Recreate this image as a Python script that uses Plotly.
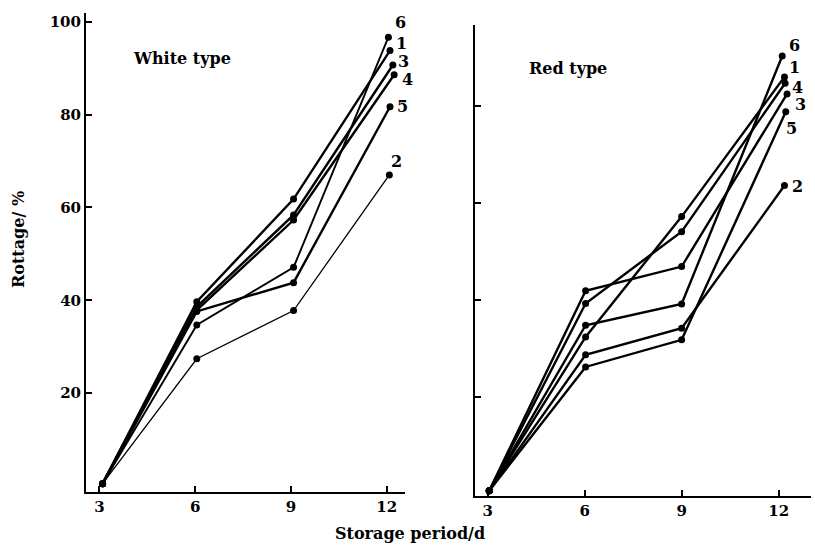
import plotly.graph_objects as go

# ---------------- data ----------------
series_names = ["1", "2", "3", "4", "5", "6"]
day_ticks = [3, 6, 9, 12]
y_ticks_white = [20, 40, 60, 80, 100]
y_ticks_red = [20, 40, 60, 80]

# storage day of each point (white type); the 12-day points per series
white_days = [3.1, 6.05, 9.08]
white_end_day = [12.1, 12.08, 12.19, 12.23, 12.1, 12.05]
white_1 = [0.5, 39.7, 61.8, 93.8]
white_2 = [0.5, 27.4, 37.8, 67.0]
white_3 = [0.5, 38.6, 58.4, 90.7]
white_4 = [0.5, 37.9, 57.3, 88.6]
white_5 = [0.5, 37.6, 43.8, 81.7]
white_6 = [0.5, 34.7, 47.1, 96.7]

red_days = [3.05, 6.03, 9.0]
red_end_day = [12.18, 12.18, 12.26, 12.2, 12.22, 12.11]
red_1 = [0.7, 32.4, 57.2, 86.0]
red_2 = [0.7, 28.7, 34.2, 63.6]
red_3 = [0.7, 41.9, 46.9, 82.5]
red_4 = [0.7, 39.3, 54.1, 84.7]
red_5 = [0.7, 26.2, 31.8, 78.8]
red_6 = [0.7, 34.8, 39.2, 90.3]

white_series = [white_1, white_2, white_3, white_4, white_5, white_6]
red_series = [red_1, red_2, red_3, red_4, red_5, red_6]

# ---------------- style ----------------
FONT = "DejaVu Serif"
W, H = 815, 546
white_widths = [2.4, 1.3, 2.4, 2.4, 2.4, 1.9]
red_widths = [2.4, 2.4, 2.4, 2.4, 2.4, 2.4]
# label offsets in px (dx, dy-up) relative to each 12-day point
white_label_off = {"1": (12, 7), "2": (7, 13), "3": (11, 3), "4": (13, -5), "5": (13, 0), "6": (12, 15)}
red_label_off = {"1": (10, 9), "2": (13, -1), "3": (13, -11), "4": (12, -4), "5": (6, -17), "6": (12, 11)}

fig = go.Figure()
annotations = []

def add_panel(series, days, end_days, widths, xa, ya, offs):
    for name, vals, end, lw in zip(series_names, series, end_days, widths):
        xs = days + [end]
        fig.add_trace(go.Scatter(
            x=xs, y=vals, mode="lines+markers", xaxis=xa, yaxis=ya,
            line=dict(color="black", width=lw),
            marker=dict(color="black", size=7),
            showlegend=False, hoverinfo="skip"))
        dx, dy = offs[name]
        annotations.append(dict(
            x=end, y=vals[-1], xref=xa, yref=ya, text=name, showarrow=False,
            xshift=dx, yshift=dy, xanchor="center", yanchor="middle",
            font=dict(family=FONT, size=16, color="black", weight="bold")))

add_panel(white_series, white_days, white_end_day, white_widths, "x", "y", white_label_off)
add_panel(red_series, red_days, red_end_day, red_widths, "x2", "y2", red_label_off)

def px_x(p):
    return p / W

def px_y(p):
    return (H - p) / H

tickfont = dict(family=FONT, size=15, color="black", weight="bold")
axis_common = dict(showgrid=False, zeroline=False, showline=True, linecolor="black",
                   linewidth=2, ticks="inside", ticklen=6, tickwidth=1.5,
                   tickcolor="black", tickfont=tickfont)

fig.update_layout(
    width=W, height=H,
    margin=dict(l=0, r=0, t=0, b=0),
    paper_bgcolor="white", plot_bgcolor="white",
    xaxis=dict(domain=[px_x(86), px_x(405)], range=[2.58, 12.57],
               tickvals=day_ticks, anchor="y", **axis_common),
    yaxis=dict(domain=[px_y(492), px_y(13)], range=[-1.3, 101.9],
               tickvals=y_ticks_white, anchor="x", **axis_common),
    xaxis2=dict(domain=[px_x(475), px_x(811)], range=[2.61, 13.0],
                tickvals=day_ticks, anchor="y2", **axis_common),
    yaxis2=dict(domain=[px_y(496), px_y(25)], range=[-0.4, 96.7],
                tickvals=y_ticks_red, showticklabels=False, anchor="x2", **axis_common),
)

title_font = dict(family=FONT, size=16, color="black", weight="bold")
annotations += [
    dict(x=px_x(182), y=px_y(59), xref="paper", yref="paper", text="White type",
         showarrow=False, xanchor="center", yanchor="middle", font=title_font),
    dict(x=px_x(568), y=px_y(68), xref="paper", yref="paper", text="Red type",
         showarrow=False, xanchor="center", yanchor="middle", font=title_font),
    dict(x=px_x(18), y=px_y(240), xref="paper", yref="paper", text="Rottage/ %",
         textangle=-90, showarrow=False, xanchor="center", yanchor="middle", font=title_font),
    dict(x=px_x(410), y=px_y(533), xref="paper", yref="paper", text="Storage period/d",
         showarrow=False, xanchor="center", yanchor="middle", font=title_font),
]
fig.update_layout(annotations=annotations)

fig.write_html("out.html", config={"displayModeBar": False},
               post_script="document.body.style.margin='0';document.body.style.padding='0';")
